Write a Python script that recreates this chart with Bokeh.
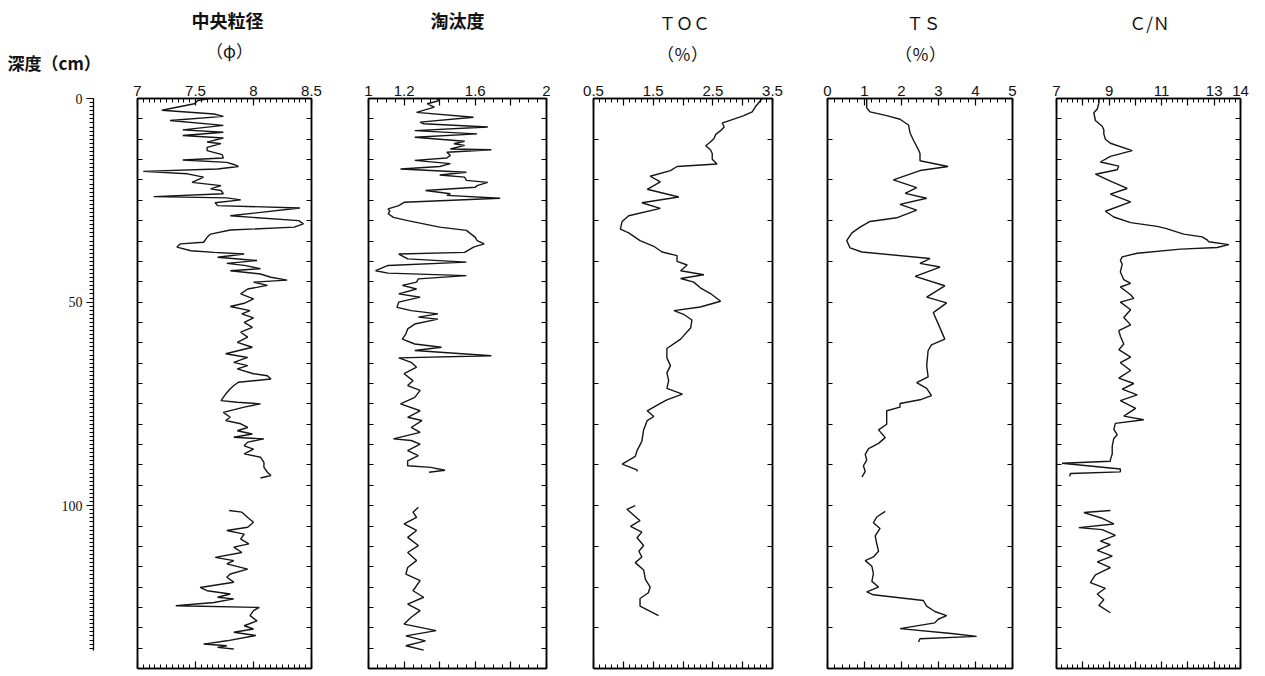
from bokeh.plotting import figure
from bokeh.models import LinearAxis, Range1d, FixedTicker, CustomJSTickFormatter
from bokeh.core.properties import value
from bokeh.layouts import row, column
from bokeh.embed import file_html
from bokeh.resources import INLINE

# ---------------- data (depth in cm) ----------------
# 中央粒径 (phi)
MD_DEPTH_A = [0.0, 0.5, 1.3, 2.9, 3.8, 4.4, 5.4, 6.6, 7.7, 8.3,
              9.1, 9.7, 10.7, 11.1, 12.0, 12.8, 13.8, 14.6, 15.1, 15.7,
              16.2, 16.7, 17.3, 17.9, 18.5, 19.3, 20.6, 21.4, 22.2, 22.6,
              23.4, 24.1, 24.4, 24.9, 25.6, 26.3, 26.9, 28.8, 30.0, 30.8,
              31.6, 32.3, 33.3, 34.1, 35.3, 35.7, 36.5, 37.4, 37.8, 38.2,
              39.0, 39.8, 40.5, 41.0, 41.8, 42.3, 43.1, 43.9, 44.6, 45.1,
              45.9, 46.8, 48.0, 49.2, 50.3, 51.1, 52.1, 52.9, 53.9, 55.0,
              56.2, 57.4, 58.6, 59.9, 61.1, 62.7, 63.6, 64.8, 65.6, 66.4,
              67.6, 68.1, 68.9, 69.7, 70.5, 71.3, 72.6, 74.2, 74.6, 75.0,
              75.8, 77.1, 78.3, 79.1, 79.9, 80.8, 81.6, 82.4, 83.2, 83.6,
              84.4, 85.3, 86.1, 87.3, 88.1, 89.4, 90.6, 91.8, 92.6, 93.2]
MD_A = [7.62, 7.52, 7.49, 7.21, 7.66, 7.74, 7.28, 7.74, 7.39, 7.74,
        7.39, 7.74, 7.60, 7.72, 7.60, 7.60, 7.73, 7.74, 7.39, 7.77,
        7.83, 7.87, 7.69, 7.05, 7.43, 7.57, 7.47, 7.72, 7.63, 7.72,
        7.74, 7.14, 7.77, 7.89, 7.67, 7.69, 8.40, 7.80, 8.39, 8.43,
        8.35, 7.80, 7.63, 7.60, 7.57, 7.37, 7.34, 7.46, 7.66, 7.92,
        7.69, 8.03, 7.77, 7.92, 8.06, 7.80, 8.06, 8.15, 8.29, 8.00,
        8.12, 7.95, 7.89, 8.00, 7.92, 7.80, 7.97, 7.90, 8.00, 7.92,
        7.99, 7.89, 7.95, 7.86, 7.99, 7.76, 7.95, 7.83, 7.95, 7.86,
        8.00, 8.12, 8.15, 7.87, 7.83, 7.80, 7.76, 7.72, 7.86, 8.06,
        7.92, 7.74, 7.80, 7.76, 7.89, 7.95, 7.86, 7.99, 7.83, 8.09,
        7.95, 7.92, 8.00, 7.92, 8.06, 8.09, 8.09, 8.12, 8.15, 8.06]
MD_DEPTH_B = [101.2, 101.6, 102.9, 104.1, 105.3, 106.1, 107.0, 108.2, 109.4, 110.2,
              111.5, 112.7, 113.5, 114.3, 115.6, 116.8, 117.6, 118.8, 120.1, 120.9,
              121.7, 122.5, 122.9, 123.8, 124.6, 125.0, 125.8, 127.0, 128.3, 129.5,
              130.3, 131.1, 131.9, 133.2, 134.0, 134.4, 134.8, 135.2]
MD_B = [7.79, 7.90, 7.95, 8.00, 7.95, 7.77, 7.92, 7.89, 7.96, 7.83,
        7.90, 7.67, 7.83, 7.77, 7.95, 7.80, 7.77, 7.83, 7.54, 7.60,
        7.80, 7.69, 7.83, 7.66, 7.33, 8.05, 8.00, 7.97, 8.03, 7.92,
        8.00, 7.83, 8.02, 7.77, 7.57, 7.77, 7.69, 7.83]

# 淘汰度
SO_DEPTH_A = [0.0, 0.5, 1.3, 2.1, 3.4, 4.6, 5.8, 6.2, 7.0, 7.9, 8.7,
              9.5, 10.5, 11.1, 11.5, 12.4, 12.6, 13.2, 14.0, 14.6, 15.2,
              16.0, 16.7, 17.3, 18.1, 18.8, 19.3, 20.1, 20.6, 21.4, 21.8,
              22.6, 23.4, 23.8, 24.5, 25.5, 26.3, 27.1, 27.7, 28.3, 29.2,
              30.0, 31.6, 32.4, 34.1, 34.9, 35.7, 36.5, 37.8, 38.2, 39.4,
              40.2, 41.0, 42.3, 42.9, 43.5, 44.3, 45.1, 45.9, 46.8, 48.0,
              48.8, 50.0, 51.3, 52.1, 52.9, 53.7, 54.2, 55.4, 56.6, 57.8,
              59.1, 60.3, 61.1, 61.9, 63.2, 63.7, 64.8, 66.0, 67.6, 69.3, 70.5,
              71.7, 73.4, 75.0, 76.7, 78.3, 79.1, 80.8, 82.0, 83.6, 84.0,
              84.9, 86.5, 87.7, 89.0, 90.2, 90.6, 91.3, 91.8]
SO_A = [1.38, 1.40, 1.33, 1.37, 1.27, 1.59, 1.29, 1.31, 1.67, 1.26, 1.61,
        1.26, 1.54, 1.48, 1.54, 1.46, 1.69, 1.44, 1.46, 1.44, 1.26,
        1.46, 1.40, 1.18, 1.55, 1.40, 1.54, 1.55, 1.67, 1.61, 1.60,
        1.32, 1.46, 1.44, 1.74, 1.20, 1.17, 1.11, 1.12, 1.11, 1.14,
        1.22, 1.40, 1.55, 1.60, 1.61, 1.65, 1.59, 1.54, 1.17, 1.22,
        1.55, 1.11, 1.04, 1.11, 1.55, 1.28, 1.27, 1.19, 1.27, 1.17,
        1.29, 1.17, 1.16, 1.24, 1.39, 1.28, 1.39, 1.26, 1.22, 1.21,
        1.19, 1.26, 1.41, 1.26, 1.69, 1.17, 1.24, 1.27, 1.20, 1.25, 1.22,
        1.29, 1.26, 1.18, 1.29, 1.22, 1.30, 1.24, 1.29, 1.14, 1.24,
        1.29, 1.22, 1.28, 1.22, 1.22, 1.35, 1.43, 1.34]
SO_DEPTH_B = [100.4, 101.6, 102.9, 104.5, 106.1, 107.8, 109.8, 111.5, 113.5, 115.2,
              116.8, 118.4, 120.9, 122.5, 124.2, 125.8, 127.4, 129.1, 130.7, 132.0,
              133.2, 134.4, 135.5]
SO_B = [1.28, 1.25, 1.27, 1.20, 1.27, 1.22, 1.28, 1.22, 1.27, 1.22,
        1.21, 1.29, 1.25, 1.31, 1.22, 1.29, 1.24, 1.20, 1.38, 1.21,
        1.32, 1.21, 1.31]

# TOC (%)
TOC_DEPTH_A = [0.0, 0.5, 1.9, 3.3, 4.2, 5.6, 6.0, 7.0, 7.9, 8.8,
               9.8, 10.7, 11.6, 12.6, 13.5, 14.9, 16.1, 16.7, 17.7, 19.1,
               20.5, 22.3, 24.2, 25.6, 27.0, 28.8, 30.2, 32.1, 33.0, 34.9,
               36.3, 37.7, 38.6, 40.0, 40.9, 42.3, 43.3, 44.2, 45.1, 46.5,
               47.9, 49.8, 51.2, 52.1, 53.0, 54.4, 56.3, 59.1, 61.4, 63.7,
               65.6, 67.4, 69.3, 71.2, 72.6, 74.0, 74.9, 76.7, 78.1, 79.1,
               81.4, 84.2, 86.5, 87.9, 89.8, 91.2, 91.6]
TOC_A = [3.33, 3.30, 3.22, 3.16, 3.02, 2.74, 2.66, 2.69, 2.63, 2.55,
         2.52, 2.46, 2.38, 2.46, 2.49, 2.49, 2.57, 1.90, 1.79, 1.45,
         1.62, 1.40, 1.93, 1.31, 1.62, 1.09, 0.98, 0.95, 1.09, 1.28,
         1.51, 1.65, 1.90, 1.90, 2.07, 1.96, 2.35, 1.96, 2.18, 2.29,
         2.46, 2.63, 2.29, 1.85, 2.01, 2.15, 2.13, 1.96, 1.73, 1.73,
         1.79, 1.73, 1.76, 1.73, 1.99, 1.73, 1.62, 1.40, 1.51, 1.40,
         1.34, 1.31, 1.23, 1.20, 0.98, 1.23, 1.23]
TOC_DEPTH_B = [100.0, 100.9, 102.3, 103.7, 105.1, 106.5, 107.9, 109.8, 111.2, 112.6,
               114.0, 115.8, 118.1, 120.0, 121.4, 122.8, 124.7, 127.0]
TOC_B = [1.20, 1.06, 1.17, 1.28, 1.12, 1.31, 1.23, 1.34, 1.26, 1.31,
         1.20, 1.34, 1.37, 1.45, 1.42, 1.28, 1.28, 1.59]

# TS (%)
TS_DEPTH_A = [0.0, 2.3, 3.3, 4.2, 5.1, 6.5, 8.4, 10.2, 12.6, 13.5,
              15.3, 16.7, 17.7, 20.0, 21.9, 23.3, 24.5, 26.0, 27.4, 29.3,
              30.2, 31.6, 33.0, 34.9, 36.7, 37.7, 39.3, 40.5, 41.4, 43.7,
              46.0, 48.8, 50.2, 52.6, 55.3, 59.1, 60.5, 61.9, 65.6, 68.4,
              69.8, 71.2, 73.0, 74.0, 74.9, 75.8, 76.7, 78.6, 80.0, 81.4,
              83.3, 84.7, 86.0, 87.4, 88.8, 90.2, 91.6, 93.0]
TS_A = [1.06, 1.06, 1.15, 1.60, 1.96, 2.19, 2.23, 2.32, 2.46, 2.50,
        2.50, 3.26, 2.50, 1.78, 2.41, 2.10, 2.68, 1.96, 2.41, 1.87,
        1.15, 0.88, 0.66, 0.52, 0.61, 0.93, 2.77, 2.50, 3.04, 2.37,
        3.17, 2.68, 3.22, 2.86, 2.99, 3.17, 2.81, 2.72, 2.68, 2.72,
        2.41, 2.68, 2.81, 2.50, 1.96, 1.96, 1.60, 1.60, 1.60, 1.38,
        1.56, 1.38, 1.11, 1.02, 1.06, 0.97, 1.02, 0.93]
TS_DEPTH_B = [101.4, 102.8, 104.2, 105.6, 107.4, 109.3, 111.2, 112.6, 113.5, 114.9,
              116.7, 118.6, 120.0, 121.2, 121.9, 123.3, 124.7, 126.0, 127.0, 127.9,
              128.8, 130.2, 131.4, 132.1, 132.7, 133.5]
TS_B = [1.56, 1.33, 1.24, 1.42, 1.29, 1.33, 1.38, 1.24, 1.02, 1.20,
        1.24, 1.20, 1.38, 1.06, 1.24, 2.59, 2.68, 2.90, 3.22, 2.99,
        2.90, 1.96, 3.35, 4.03, 2.50, 2.46]

# C/N
CN_DEPTH_A = [0.0, 1.2, 2.6, 3.5, 5.4, 6.8, 7.7, 8.7, 10.0, 11.0,
              12.8, 14.2, 15.6, 16.6, 17.5, 18.6, 20.3, 22.1, 23.5, 25.4,
              27.7, 29.1, 30.5, 31.4, 31.9, 33.3, 34.0, 34.7, 35.2, 35.9,
              36.6, 37.0, 38.0, 38.9, 39.8, 40.7, 42.6, 44.5, 45.4, 46.3,
              48.2, 49.1, 50.0, 51.9, 53.8, 55.6, 57.0, 58.4, 60.3, 61.7,
              63.5, 64.9, 66.8, 68.7, 70.0, 71.4, 72.8, 74.2, 76.1, 78.0,
              78.9, 79.8, 81.2, 82.6, 83.5, 85.4, 87.3, 88.7, 89.1, 89.6,
              91.0, 91.7, 92.1, 92.8]
CN_A = [8.62, 8.61, 8.55, 8.42, 8.48, 8.74, 8.80, 8.80, 8.86, 9.05,
        9.88, 9.05, 8.67, 9.37, 9.31, 8.48, 9.05, 9.69, 9.05, 9.82,
        8.86, 9.18, 9.82, 10.83, 11.15, 11.84, 12.54, 12.73, 12.79, 13.56,
        13.11, 11.72, 10.07, 9.50, 9.43, 9.50, 9.43, 9.56, 9.82, 9.43,
        9.82, 9.94, 9.43, 9.82, 9.56, 9.82, 9.37, 9.43, 9.56, 9.37,
        9.82, 9.43, 9.82, 9.37, 9.94, 9.50, 10.07, 9.43, 10.01, 9.56,
        10.32, 9.24, 9.18, 9.31, 9.18, 9.12, 9.12, 9.05, 9.05, 7.21,
        9.43, 9.43, 7.53, 7.50]
CN_DEPTH_B = [101.2, 101.7, 103.1, 104.5, 105.4, 105.9, 107.3, 108.7, 109.6, 111.0,
              112.4, 113.8, 115.2, 117.0, 118.9, 120.3, 121.7, 123.1, 124.5, 126.3]
CN_B = [9.05, 8.04, 8.74, 9.18, 7.85, 8.74, 9.24, 8.67, 9.05, 8.55,
        9.12, 8.55, 9.05, 8.48, 8.29, 8.86, 8.55, 8.80, 8.61, 9.05]

# tick values / labels
MD_TICKS = [7, 7.5, 8, 8.5]
MD_LABELS = ["7", "7.5", "8", "8.5"]
SO_TICKS = [1, 1.2, 1.4, 1.6, 1.8, 2]
SO_LABELS = ["1", "1.2", "", "1.6", "", "2"]
TOC_TICKS = [0.5, 1, 1.5, 2, 2.5, 3, 3.5]
TOC_LABELS = ["0.5", "", "1.5", "", "2.5", "", "3.5"]
TS_TICKS = [0, 1, 2, 3, 4, 5]
TS_LABELS = ["0", "1", "2", "3", "4", "5"]
CN_TICKS = [7, 8, 9, 10, 11, 12, 13, 14]
CN_LABELS = ["7", "", "9", "", "11", "", "13", "14"]
DEPTH_TICKS = [0, 50, 100]

# header texts
BOLD_TITLES = ["中央粒径", "淘汰度"]
PLAIN_TITLES = ["ＴＯＣ", "ＴＳ", "Ｃ/Ｎ"]
UNIT_TITLES = ["（φ）", "（％）", "（％）"]
DEPTH_TITLE = "深度（cm）"

# ---------------- layout ----------------
HDR_H = 76
H = 594
TOP = 22
BOT = 2
LINE_COLOR = "#151515"
TICK_FONT = "Liberation Sans"
CJK = "Noto Sans CJK JP"
D_W, D_L = 103, 93
WIDTHS = [228, 235, 231, 235, 223]
TOTAL_W = D_W + sum(WIDTHS)


def frange(a, b, step):
    n = int(round((b - a) / step))
    return [round(a + i * step, 6) for i in range(n + 1)]


def base_fig(width, height, left, right, top, bottom, xr, yr):
    p = figure(width=width, height=height, x_range=Range1d(*xr), y_range=Range1d(*yr),
               x_axis_location=None, y_axis_location=None, toolbar_location=None,
               output_backend="svg", min_border_left=left, min_border_right=right,
               min_border_top=top, min_border_bottom=bottom, title=None)
    p.grid.visible = False
    p.background_fill_color = "white"
    p.border_fill_color = "white"
    return p


def hidden_labels(ax):
    ax.formatter = CustomJSTickFormatter(code="return ''")
    ax.major_label_text_font_size = "0px"
    ax.major_label_standoff = 0


def panel(width, left, right, xr, ticks, labels, minor_step, side_step, segments):
    p = base_fig(width, H, left, right, TOP, BOT, xr, (140, 0))
    p.outline_line_color = "black"
    p.outline_line_width = 1.5
    minors = frange(xr[0], xr[1], minor_step)

    top = LinearAxis(ticker=FixedTicker(ticks=ticks, minor_ticks=minors))
    top.formatter = CustomJSTickFormatter(args=dict(labels=labels), code="return labels[index]")
    top.major_tick_in = 7
    top.major_tick_out = 0
    top.minor_tick_in = 4
    top.minor_tick_out = 0
    top.axis_line_width = 1.5
    top.major_tick_line_width = 1.2
    top.minor_tick_line_width = 1
    top.major_label_text_font = TICK_FONT
    top.major_label_text_font_size = "15px"
    top.major_label_text_color = "#111111"
    top.major_label_standoff = 3
    p.add_layout(top, "above")

    bottom = LinearAxis(ticker=FixedTicker(ticks=ticks, minor_ticks=minors))
    hidden_labels(bottom)
    bottom.major_tick_in = 7
    bottom.major_tick_out = 0
    bottom.minor_tick_in = 4
    bottom.minor_tick_out = 0
    bottom.axis_line_width = 1.5
    bottom.major_tick_line_width = 1.2
    p.add_layout(bottom, "below")

    side = frange(side_step, 140 - side_step, side_step)
    for loc in ("left", "right"):
        ax = LinearAxis(ticker=FixedTicker(ticks=side, minor_ticks=[]))
        hidden_labels(ax)
        ax.major_tick_in = 5
        ax.major_tick_out = 0
        ax.minor_tick_line_color = None
        ax.axis_line_width = 1.5
        p.add_layout(ax, loc)

    for vals, depths in segments:
        p.line(x=vals, y=depths, line_color=LINE_COLOR, line_width=1.4)
    return p


# ---- header strip (coordinates in page pixels) ----
hdr = base_fig(TOTAL_W, HDR_H, 0, 0, 0, 0, (0, TOTAL_W), (HDR_H, 0))
hdr.outline_line_color = None
hdr.text(x=[227, 457], y=[19, 19], text=BOLD_TITLES, text_font=value(CJK),
         text_font_style="bold", text_font_size="18px", text_align="center",
         text_baseline="middle", text_color="#111111")
hdr.text(x=[684, 923, 1149], y=[22, 22, 22], text=PLAIN_TITLES, text_font=value(CJK),
         text_font_size="17px", text_align="center", text_baseline="middle",
         text_color="#111111")
hdr.text(x=[229, 682, 920], y=[50, 53, 53], text=UNIT_TITLES, text_font=value(CJK),
         text_font_size="17px", text_align="center", text_baseline="middle",
         text_color="#111111")
hdr.text(x=[7], y=[62], text=[DEPTH_TITLE], text_font=value(CJK),
         text_font_style="bold", text_font_size="17px", text_align="left",
         text_baseline="middle", text_color="#111111")

# ---- depth axis ----
d = base_fig(D_W, H, D_L, 0, TOP, BOT, (0, 1), (140, 0))
d.outline_line_color = None
dax = LinearAxis(ticker=FixedTicker(ticks=DEPTH_TICKS, minor_ticks=list(range(0, 136))),
                 bounds=(0, 135.5))
dax.major_tick_out = 7
dax.major_tick_in = 0
dax.minor_tick_out = 4
dax.minor_tick_in = 0
dax.axis_line_width = 1.3
dax.major_tick_line_width = 1.2
dax.major_label_text_font = "Liberation Serif"
dax.major_label_text_font_size = "14px"
dax.major_label_text_color = "#111111"
dax.major_label_standoff = 4
d.add_layout(dax, "left")

p1 = panel(WIDTHS[0], 34, 20, (7, 8.5), MD_TICKS, MD_LABELS, 0.05, 5,
           [(MD_A, MD_DEPTH_A), (MD_B, MD_DEPTH_B)])
p2 = panel(WIDTHS[1], 37, 20, (1, 2), SO_TICKS, SO_LABELS, 0.05, 5,
           [(SO_A, SO_DEPTH_A), (SO_B, SO_DEPTH_B)])
p3 = panel(WIDTHS[2], 27, 25, (0.5, 3.5), TOC_TICKS, TOC_LABELS, 0.1, 10,
           [(TOC_A, TOC_DEPTH_A), (TOC_B, TOC_DEPTH_B)])
p4 = panel(WIDTHS[3], 30, 20, (0, 5), TS_TICKS, TS_LABELS, 0.2, 10,
           [(TS_A, TS_DEPTH_A), (TS_B, TS_DEPTH_B)])
p5 = panel(WIDTHS[4], 24, 15, (7, 14), CN_TICKS, CN_LABELS, 0.2, 5,
           [(CN_A, CN_DEPTH_A), (CN_B, CN_DEPTH_B)])

layout = column(hdr, row(d, p1, p2, p3, p4, p5))
open("out.html", "w").write(file_html(layout, INLINE))
